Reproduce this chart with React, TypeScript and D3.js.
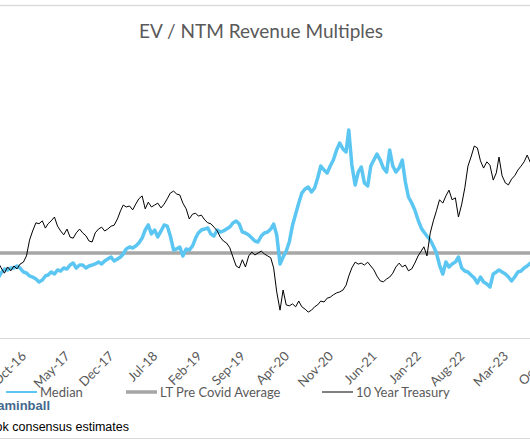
import React, { useEffect } from "react";
import * as d3 from "d3";

const START_MONTH = "2016-07";
const LT_AVERAGE = 7.08;

const medianValues = [
  5.0, 5.42, 5.75, 5.67, 5.83, 5.83, 6.0, 5.83, 5.5, 5.42,
  5.17, 5.08, 4.92, 4.67, 4.83, 5.17, 5.25, 5.5, 5.33, 5.67,
  5.58, 5.83, 5.75, 6.08, 6.25, 5.83, 6.08, 6.08, 5.83, 6.0,
  6.08, 6.17, 6.33, 6.17, 6.42, 6.58, 6.75, 6.42, 6.58, 6.75,
  7.0, 7.42, 7.58, 7.5, 7.67, 7.92, 8.33, 9.0, 9.42, 8.67,
  9.0, 8.42, 8.92, 9.42, 9.33, 8.5, 7.33, 7.42, 7.58, 6.83,
  7.42, 7.33, 7.67, 8.33, 8.75, 9.0, 9.08, 9.17, 8.67, 8.5,
  9.0, 8.83, 8.92, 9.08, 9.25, 9.58, 9.75, 9.5, 8.83, 8.75,
  8.58, 8.33, 8.08, 8.0, 8.5, 8.75, 8.83, 9.08, 9.5, 8.58,
  6.17, 6.75, 7.25, 8.0, 9.42, 10.33, 11.25, 12.08, 12.42, 12.58,
  12.17, 12.5, 13.33, 14.33, 14.0, 13.75, 14.33, 14.83, 15.67, 16.25,
  15.75, 15.5, 17.33, 14.42, 12.75, 13.83, 14.25, 12.92, 12.67, 14.33,
  14.83, 15.33, 14.83, 14.17, 13.83, 15.67, 14.33, 13.83, 14.17, 14.83,
  13.0, 11.75, 11.25, 10.67, 9.83, 9.17, 8.83, 8.5, 8.17, 7.67,
  7.08, 6.08, 5.33, 6.33, 5.92, 6.17, 6.33, 6.75, 5.83, 5.58,
  5.5, 5.25, 5.0, 4.58, 5.08, 4.67, 4.5, 4.25, 5.33, 5.5,
  5.67, 5.5, 5.33, 5.08, 4.75, 5.08, 5.5, 5.58, 5.83, 6.0,
  6.25, 6.42,
];

const treasuryValues = [
  1.58, 1.46, 1.35, 1.48, 1.4, 1.5, 1.44, 1.54, 1.58, 1.71,
  2.04, 2.23, 2.4, 2.38, 2.44, 2.29, 2.38, 2.44, 2.52, 2.33,
  2.23, 2.15, 2.27, 2.1, 2.08, 2.19, 2.27, 2.19, 2.13, 2.02,
  2.0, 2.19, 2.27, 2.31, 2.23, 2.27, 2.33, 2.35, 2.48, 2.65,
  2.77, 2.73, 2.75, 2.67, 2.79, 2.9, 2.96, 2.69, 2.83, 2.73,
  2.77, 2.81, 2.71, 2.79, 2.9, 3.02, 3.06, 3.0, 2.98, 2.81,
  2.69, 2.48, 2.58, 2.6, 2.54, 2.56, 2.46, 2.4, 2.38, 2.31,
  2.23, 2.1, 2.02, 1.98, 1.88, 1.69, 1.5, 1.46, 1.63, 1.48,
  1.71, 1.79, 1.73, 1.77, 1.81, 1.75, 1.71, 1.67, 1.46, 0.96,
  0.58, 1.0, 0.69, 0.67, 0.71, 0.65, 0.77, 0.65, 0.6, 0.54,
  0.58, 0.65, 0.69, 0.77, 0.75, 0.83, 0.85, 0.9, 0.94, 0.96,
  1.0, 1.1, 1.29, 1.46, 1.58, 1.54, 1.56, 1.52, 1.58, 1.5,
  1.42, 1.29, 1.19, 1.17, 1.23, 1.27, 1.35, 1.48, 1.56, 1.48,
  1.52, 1.4, 1.44, 1.56, 1.71, 1.81, 1.9, 1.71, 2.19, 2.44,
  2.65, 2.88, 2.81, 2.96, 3.08, 2.88, 2.92, 2.52, 2.79, 3.13,
  3.58, 3.77, 4.0, 3.96, 3.69, 3.54, 3.67, 3.6, 3.29, 3.44,
  3.77, 3.38, 3.23, 3.19, 3.31, 3.38, 3.5, 3.58, 3.67, 3.81,
  3.65, 3.71,
];

const tickLabels = [
  "Oct-16", "May-17", "Dec-17", "Jul-18", "Feb-19", "Sep-19", "Apr-20",
  "Nov-20", "Jun-21", "Jan-22", "Aug-22", "Mar-23", "Oct-23",
];

const legendItems = ["Median", "LT Pre Covid Average", "10 Year Treasury"];

const W = 530;
const H = 442;

export default function App() {
  useEffect(() => {
    document.body.style.margin = "0";
  }, []);

  const start = d3.timeParse("%Y-%m")(START_MONTH) as Date;
  const dates = medianValues.map((_, i) => {
    const m = d3.timeMonth.offset(start, Math.floor(i / 2));
    return i % 2 === 0 ? m : d3.timeDay.offset(m, 15);
  });

  const x = d3
    .scaleTime()
    .domain([new Date(2016, 9, 1), new Date(2023, 2, 1)])
    .range([17, 499]);
  const yM = d3.scaleLinear().domain([0, 20]).range([338, 98]);
  const yT = d3.scaleLinear().domain([0, 5]).range([338, 98]);

  const medianLine = d3
    .line<number>()
    .x((_, i) => x(dates[i]))
    .y((d) => yM(d));
  const treasuryLine = d3
    .line<number>()
    .x((_, i) => x(dates[i]))
    .y((d) => yT(d));

  const parseTick = d3.timeParse("%b-%y");
  const font = "Lato, 'Open Sans', sans-serif";
  const grey = "#595959";

  const legendX = [6, 126, 322];

  return (
    <svg width={W} height={H} style={{ display: "block" }} fontFamily={font}>
      <rect width={W} height={H} fill="#fff" />
      <line x1={0} x2={W} y1={5.5} y2={5.5} stroke="#dcdcdc" strokeWidth={1.5} />
      <text x={261} y={38} textAnchor="middle" fontSize={19} fill={grey}>
        EV / NTM Revenue Multiples
      </text>
      <line
        x1={0}
        x2={W}
        y1={yM(LT_AVERAGE)}
        y2={yM(LT_AVERAGE)}
        stroke="#a6a6a6"
        strokeWidth={3.5}
      />
      <path
        d={medianLine(medianValues) || ""}
        fill="none"
        stroke="#5cc6f2"
        strokeWidth={3.5}
        strokeLinejoin="round"
      />
      <path
        d={treasuryLine(treasuryValues) || ""}
        fill="none"
        stroke="#000"
        strokeWidth={1}
        strokeLinejoin="round"
      />
      <line x1={0} x2={W} y1={338.5} y2={338.5} stroke="#d9d9d9" strokeWidth={1} />
      {tickLabels.map((t) => {
        const tx = x(parseTick(t) as Date) + 10;
        return (
          <text
            key={t}
            transform={`translate(${tx},357) rotate(-45)`}
            textAnchor="end"
            fontSize={13}
            fill={grey}
          >
            {t}
          </text>
        );
      })}
      {legendItems.map((name, i) => (
        <g key={name}>
          <line
            x1={legendX[i]}
            x2={legendX[i] + 31}
            y1={392}
            y2={392}
            stroke={i === 0 ? "#5cc6f2" : i === 1 ? "#a6a6a6" : "#000"}
            strokeWidth={i === 0 ? 2 : i === 1 ? 3.5 : 1}
          />
          <text x={legendX[i] + 34} y={397} fontSize={13} fill={grey}>
            {name}
          </text>
        </g>
      ))}
      <text
        x={50}
        y={410}
        textAnchor="end"
        fontSize={13}
        fontWeight="bold"
        fill="#44698d"
        fontFamily="'Liberation Sans', Arial, sans-serif"
      >
        @jaminball
      </text>
      <text
        x={129}
        y={431}
        textAnchor="end"
        fontSize={12.5}
        fill="#000"
        fontFamily="'Liberation Sans', Arial, sans-serif"
      >
        Source: Pitchbook consensus estimates
      </text>
      <line x1={0} x2={W} y1={438.5} y2={438.5} stroke="#d9d9d9" strokeWidth={1} />
    </svg>
  );
}
